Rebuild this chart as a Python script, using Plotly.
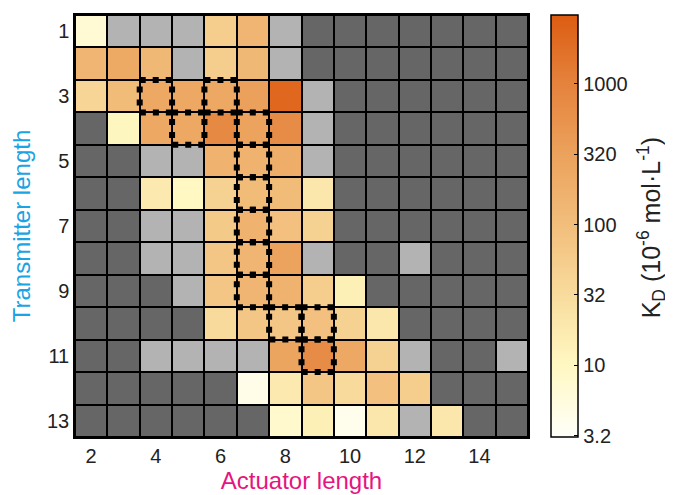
import math
import plotly.graph_objects as go

# ---- data -------------------------------------------------------------
actuator = list(range(2, 16))        # x categories (columns)
transmitter = list(range(1, 14))     # y categories (rows)

D, L = "D", "L"   # D: dark grey cell, L: light grey cell
kd_rows = [
    [7, L, L, L, 56, 141, L, D, D, D, D, D, D, D],                 # 1
    [141, 224, 126, L, 56, 126, L, D, D, D, D, D, D, D],           # 2
    [40, 112, 240, 240, 240, 330, 2240, L, D, D, D, D, D, D],      # 3
    [D, 11, 240, 240, 790, 300, 710, L, D, D, D, D, D, D],         # 4
    [D, D, L, L, 158, 158, 200, L, D, D, D, D, D, D],              # 5
    [D, D, 18, 10, 45, 112, 112, 20, D, D, D, D, D, D],            # 6
    [D, D, L, L, 63, 158, 89, 45, D, D, D, D, D, D],               # 7
    [D, D, L, L, 71, 141, 300, L, D, D, L, D, D, D],               # 8
    [D, D, D, L, 71, 141, 158, 56, 14, D, D, D, D, D],             # 9
    [D, D, D, D, 32, 71, 71, 89, 45, 20, D, D, D, D],              # 10
    [D, D, L, L, L, L, 282, 710, 240, 45, L, D, D, L],             # 11
    [D, D, D, D, D, 4.5, 18, 71, 32, 89, 56, D, D, D],             # 12
    [D, D, D, D, D, D, 8, 14, 4.2, 20, L, 20, D, D],               # 13
]

box_actuator = [4, 6, 5, 7, 7, 7, 7, 7, 7, 8, 9, 9]
box_transmitter = [3, 3, 4, 4, 5, 6, 7, 8, 9, 10, 10, 11]

cbar_ticks = [3.2, 10, 32, 100, 320, 1000]
cbar_log_ticks = [0.5, 1.0, 1.5, 2.0, 2.5, 3.0]

# ---- build matrices ----------------------------------------------------
z_kd = [[math.log10(v) if isinstance(v, (int, float)) else None for v in r] for r in kd_rows]
z_grey = [[0 if v == D else (1 if v == L else None) for v in r] for r in kd_rows]

FONT = "Liberation Sans, Arial, sans-serif"

colorscale = [
    [0.00, "#FFFFFA"],
    [0.17, "#FFF8C2"],
    [0.34, "#F8DB9C"],
    [0.50, "#F2BE7C"],
    [0.67, "#EBA25C"],
    [0.84, "#E5823C"],
    [1.00, "#DC5C12"],
]

fig = go.Figure()

fig.add_trace(go.Heatmap(
    x=actuator, y=transmitter, z=z_grey,
    colorscale=[[0, "#666666"], [0.5, "#666666"], [0.5, "#B3B3B3"], [1, "#B3B3B3"]],
    zmin=0, zmax=1, showscale=False, xgap=2, ygap=2, hoverinfo="skip",
))

fig.add_trace(go.Heatmap(
    x=actuator, y=transmitter, z=z_kd,
    colorscale=colorscale, zmin=0.49, zmax=3.49,
    xgap=2, ygap=2,
    colorbar=dict(
        x=1.051, xanchor="left", xpad=0,
        y=0.5, yanchor="middle", len=1.0, lenmode="fraction", ypad=0,
        thickness=27, outlinewidth=1.5, outlinecolor="black",
        tickvals=cbar_log_ticks, ticktext=[str(t) for t in cbar_ticks],
        ticks="inside", ticklen=4, tickcolor="black",
        tickfont=dict(family=FONT, size=20, color="#222222"),
    ),
))

for a, t in zip(box_actuator, box_transmitter):
    fig.add_shape(
        type="rect", xref="x", yref="y",
        x0=a - 0.5, x1=a + 0.5, y0=t - 0.5, y1=t + 0.5,
        line=dict(color="black", width=6, dash="6px,7px"),
        layer="above",
    )

fig.add_annotation(
    text="K<sub>D</sub> (10<sup>-6</sup> mol·L<sup>-1</sup>)",
    xref="paper", yref="paper", x=1.272, y=0.495,
    xanchor="center", yanchor="middle", textangle=-90, showarrow=False,
    font=dict(family=FONT, size=25, color="#222222"),
)

fig.update_layout(
    width=673, height=495,
    margin=dict(l=67, r=153, t=7, b=66, autoexpand=False),
    paper_bgcolor="white", plot_bgcolor="black",
    font=dict(family=FONT, color="#222222"),
    xaxis=dict(
        range=[1.5, 15.5], tickvals=list(range(2, 15, 2)),
        showgrid=False, zeroline=False,
        showline=True, mirror=True, linecolor="black", linewidth=1.5,
        ticks="", tickfont=dict(size=20),
        title=dict(text="Actuator length", standoff=6,
                   font=dict(size=24, color="#E5157F")),
        automargin=False,
    ),
    yaxis=dict(
        range=[13.5, 0.5], tickvals=list(range(1, 14, 2)),
        showgrid=False, zeroline=False,
        showline=True, mirror=True, linecolor="black", linewidth=1.5,
        ticks="", tickfont=dict(size=20),
        title=dict(text="Transmitter length", standoff=10,
                   font=dict(size=24, color="#1BA3E3")),
        automargin=False,
    ),
)

fig.write_html("out.html")
